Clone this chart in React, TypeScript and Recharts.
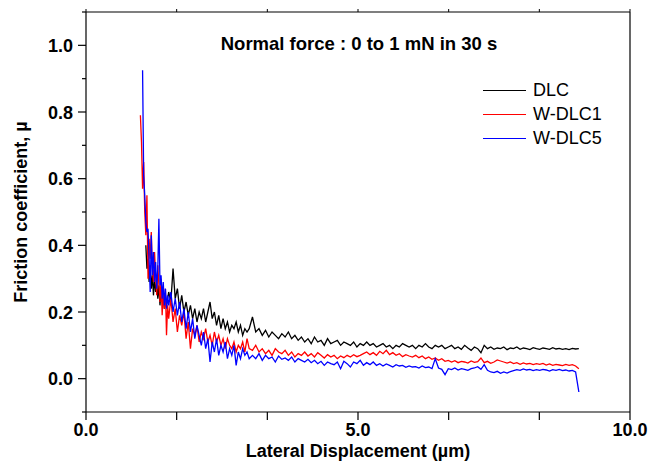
import React from "react"
import { LineChart, Line, XAxis, YAxis, Legend } from "recharts"

// lateral displacement (µm)
const xs = [
  1.0, 1.02, 1.04, 1.06, 1.08, 1.1, 1.12, 1.14, 1.16, 1.18, 1.2, 1.22, 1.24,
  1.26, 1.28, 1.3, 1.32, 1.34, 1.36, 1.38, 1.4, 1.42, 1.44, 1.46, 1.48, 1.5,
  1.52, 1.56, 1.6, 1.64, 1.68, 1.72, 1.76, 1.8, 1.84, 1.88, 1.92, 1.96, 2.0,
  2.04, 2.08, 2.12, 2.16, 2.2, 2.24, 2.28, 2.32, 2.36, 2.4, 2.44, 2.48, 2.52,
  2.56, 2.6, 2.64, 2.68, 2.72, 2.76, 2.8, 2.84, 2.88, 2.92, 2.96, 3.0,
  3.06, 3.12, 3.18, 3.24, 3.3, 3.36, 3.42, 3.48, 3.54, 3.6,
  3.66, 3.72, 3.78, 3.84, 3.9, 3.96, 4.02, 4.08, 4.14, 4.2,
  4.26, 4.32, 4.38, 4.44, 4.5, 4.56, 4.62, 4.68, 4.74, 4.8,
  4.86, 4.92, 4.98, 5.04, 5.1, 5.16, 5.22, 5.28, 5.34, 5.4,
  5.46, 5.52, 5.58, 5.64, 5.7, 5.76, 5.82, 5.88, 5.94, 6.0,
  6.06, 6.12, 6.18, 6.24, 6.3, 6.36, 6.42, 6.48, 6.54, 6.6,
  6.66, 6.72, 6.78, 6.84, 6.9, 6.96, 7.02, 7.08, 7.14, 7.2,
  7.26, 7.32, 7.38, 7.44, 7.5, 7.56, 7.62, 7.68, 7.74, 7.8,
  7.86, 7.92, 7.98, 8.04, 8.1, 8.16, 8.22, 8.28, 8.34, 8.4,
  8.46, 8.52, 8.58, 8.64, 8.7, 8.76, 8.82, 8.88, 8.94, 9.0,
  9.06,
]

// friction coefficient per sample
const dlc = [
  null, null, null, null, null, 0.4, 0.33, 0.36, 0.29, 0.34, 0.27, 0.31, 0.25,
  0.3, 0.26, 0.29, 0.24, 0.28, 0.22, 0.27, 0.23, 0.26, 0.21, 0.25, 0.22, 0.24,
  0.26, 0.23, 0.33, 0.24, 0.27, 0.21, 0.25, 0.2, 0.23, 0.19, 0.22, 0.18, 0.21,
  0.17, 0.2, 0.18, 0.21, 0.17, 0.2, 0.23, 0.18, 0.2, 0.16, 0.19, 0.15, 0.18,
  0.15, 0.17, 0.14, 0.16, 0.15, 0.17, 0.14, 0.16, 0.13, 0.15, 0.14, 0.15,
  0.185, 0.14, 0.15, 0.13, 0.145, 0.125, 0.14, 0.13, 0.12, 0.135,
  0.125, 0.14, 0.12, 0.13, 0.115, 0.125, 0.11, 0.12, 0.105, 0.125,
  0.11, 0.115, 0.1, 0.12, 0.105, 0.11, 0.115, 0.1, 0.11, 0.105,
  0.1, 0.11, 0.095, 0.105, 0.1, 0.11, 0.1, 0.105, 0.095, 0.1,
  0.105, 0.095, 0.1, 0.09, 0.1, 0.095, 0.105, 0.1, 0.095, 0.1,
  0.09, 0.1, 0.095, 0.105, 0.095, 0.09, 0.1, 0.095, 0.1, 0.09,
  0.095, 0.1, 0.09, 0.095, 0.088, 0.1, 0.092, 0.085, 0.095, 0.09,
  0.078, 0.1, 0.09, 0.095, 0.088, 0.092, 0.09, 0.095, 0.087, 0.092,
  0.09, 0.095, 0.088, 0.092, 0.09, 0.087, 0.093, 0.09, 0.088, 0.092,
  0.09, 0.088, 0.093, 0.089, 0.091, 0.088, 0.09, 0.087, 0.091, 0.089,
  0.09,
]

const wdlc1 = [
  0.79, 0.71, 0.57, 0.65, 0.5, 0.43, 0.55, 0.3, 0.42, 0.36, 0.44, 0.33, 0.29,
  0.38, 0.31, 0.25, 0.34, 0.28, 0.23, 0.3, 0.19, 0.26, 0.21, 0.27, 0.13, 0.22,
  0.18, 0.24, 0.17, 0.21, 0.14, 0.19, 0.16, 0.2, 0.12, 0.17, 0.09, 0.15, 0.13,
  0.16, 0.11, 0.14, 0.12, 0.15, 0.11, 0.13, 0.1, 0.14, 0.11, 0.13, 0.1, 0.12,
  0.09, 0.12, 0.1, 0.09, 0.11, 0.08, 0.1, 0.09, 0.11, 0.08, 0.12, 0.09,
  0.085, 0.1, 0.08, 0.09, 0.075, 0.085, 0.07, 0.09, 0.08, 0.075,
  0.085, 0.07, 0.08, 0.065, 0.075, 0.07, 0.08, 0.068, 0.075, 0.065,
  0.078, 0.07, 0.062, 0.072, 0.065, 0.07, 0.06, 0.068, 0.063, 0.07,
  0.065, 0.072, 0.066, 0.07, 0.075, 0.08, 0.072, 0.078, 0.07, 0.082,
  0.075, 0.085, 0.072, 0.078, 0.07, 0.075, 0.066, 0.072, 0.068, 0.065,
  0.07, 0.063, 0.068, 0.06, 0.065, 0.058, 0.062, 0.055, 0.06, 0.052,
  0.055, 0.05, 0.054, 0.048, 0.052, 0.05, 0.047, 0.053, 0.049, 0.051,
  0.062, 0.048, 0.052, 0.046, 0.05, 0.056, 0.053, 0.05, 0.047, 0.05,
  0.045, 0.048, 0.043, 0.047, 0.044, 0.046, 0.042, 0.045, 0.043, 0.046,
  0.041, 0.044, 0.04, 0.043, 0.041, 0.039, 0.043, 0.04, 0.042, 0.038,
  0.03,
]

const wdlc5 = [
  null, null, 0.925, 0.61, 0.55, 0.47, 0.44, 0.45, 0.36, 0.26, 0.43, 0.31, 0.38,
  0.29, 0.35, 0.27, 0.33, 0.48, 0.28, 0.31, 0.24, 0.29, 0.22, 0.27, 0.21, 0.25,
  0.22, 0.26, 0.2, 0.24, 0.19, 0.23, 0.17, 0.21, 0.15, 0.2, 0.14, 0.18, 0.12,
  0.16, 0.13, 0.1, 0.14, 0.09, 0.12, 0.05, 0.11, 0.08, 0.12, 0.07, 0.1, 0.08,
  0.11, 0.06, 0.09, 0.07, 0.1, 0.04, 0.08, 0.06, 0.09, 0.07, 0.08, 0.06,
  0.07, 0.06, 0.075, 0.055, 0.07, 0.06, 0.065, 0.05, 0.068, 0.058,
  0.062, 0.055, 0.065, 0.05, 0.06, 0.055, 0.05, 0.058, 0.048, 0.055,
  0.045, 0.052, 0.04, 0.05, 0.045, 0.042, 0.05, 0.03, 0.052, 0.045,
  0.035, 0.05, 0.045, 0.055, 0.04, 0.048, 0.042, 0.05, 0.04, 0.045,
  0.038, 0.044, 0.04, 0.035, 0.042, 0.038, 0.04, 0.034, 0.038, 0.035,
  0.036, 0.032, 0.038, 0.033, 0.035, 0.03, 0.06, 0.032, 0.028, 0.012,
  0.03, 0.027, 0.032, 0.026, 0.03, 0.028, 0.025, 0.03, 0.032, 0.036,
  0.028, 0.042, 0.025, 0.02, 0.018, 0.022, 0.016, 0.02, 0.017, 0.021,
  0.024, 0.027, 0.025, 0.029, 0.026, 0.028, 0.024, 0.027, 0.025, 0.028,
  0.026, 0.023, 0.027, 0.025, 0.028, 0.024, 0.026, 0.023, 0.025, 0.02,
  -0.04,
]

const xTicks = [0, 1.6667, 3.3333, 5, 6.6667, 8.3333, 10]
const xLabeled = [0, 5, 10]
const yTicks = [-0.1, 0, 0.1, 0.2, 0.3, 0.4, 0.5, 0.6, 0.7, 0.8, 0.9, 1.0, 1.1]

const series = [
  { key: "dlc", name: "DLC", color: "#000000" },
  { key: "wdlc1", name: "W-DLC1", color: "#ff0000" },
  { key: "wdlc5", name: "W-DLC5", color: "#0000ff" },
]

const FONT = '"Liberation Sans", Arial, Helvetica, sans-serif'

const data = xs.map((x, i) => ({ x, dlc: dlc[i], wdlc1: wdlc1[i], wdlc5: wdlc5[i] }))

const isMajor = (v: number) => Math.round(v * 10) % 2 === 0 && v >= 0

function LeftTick({ x, y, payload }: any) {
  const major = isMajor(payload.value)
  return (
    <g>
      <line x1={x} x2={x - (major ? 8 : 4)} y1={y} y2={y} stroke="#000" strokeWidth={1.2} />
      {major && (
        <text x={x - 13} y={y} dy={6.5} textAnchor="end" fontFamily={FONT} fontSize={18} fontWeight="bold" fill="#000">
          {payload.value.toFixed(1)}
        </text>
      )}
    </g>
  )
}

function RightTick({ x, y }: any) {
  return <line x1={x} x2={x + 3} y1={y} y2={y} stroke="#000" strokeWidth={1} />
}

function TopTick({ x, y }: any) {
  return <line x1={x} x2={x} y1={y} y2={y - 3} stroke="#000" strokeWidth={1} />
}

function LegendBox() {
  return (
    <div style={{ fontFamily: FONT, fontSize: 18, color: "#000" }}>
      {series.map((s) => (
        <div key={s.key} style={{ display: "flex", alignItems: "center", height: 24 }}>
          <span style={{ display: "inline-block", width: 43, height: 0, borderTop: `1.3px solid ${s.color}`, marginRight: 7 }} />
          <span>{s.name}</span>
        </div>
      ))}
    </div>
  )
}

export default function App() {
  return (
    <div style={{ position: "absolute", left: 0, top: 0, background: "#fff" }}>
      <LineChart width={651} height={472} data={data} margin={{ top: 0, right: 0, bottom: 0, left: 0 }}>
        <XAxis
          dataKey="x"
          type="number"
          domain={[0, 10]}
          ticks={xTicks}
          interval={0}
          height={60}
          stroke="#000"
          strokeWidth={1.2}
          tickSize={8}
          tickMargin={3}
          tick={{ fill: "#000", fontSize: 18, fontWeight: "bold", fontFamily: FONT }}
          tickFormatter={(v: number) => (xLabeled.some((l) => Math.abs(l - v) < 1e-6) ? v.toFixed(1) : "")}
          label={{
            value: "Lateral Displacement (µm)",
            position: "insideBottom",
            offset: 15,
            fill: "#000",
            fontSize: 18,
            fontWeight: "bold",
            fontFamily: FONT,
          }}
        />
        <XAxis
          xAxisId="top"
          orientation="top"
          dataKey="x"
          type="number"
          domain={[0, 10]}
          ticks={xTicks}
          interval={0}
          height={12}
          stroke="#000"
          strokeWidth={1.2}
          tickSize={0}
          tickMargin={0}
          tick={<TopTick />}
        />
        <YAxis
          type="number"
          domain={[-0.1, 1.1]}
          ticks={yTicks}
          interval={0}
          width={86}
          stroke="#000"
          strokeWidth={1.2}
          tickSize={0}
          tickMargin={0}
          tick={<LeftTick />}
        />
        <YAxis
          yAxisId="right"
          orientation="right"
          type="number"
          domain={[-0.1, 1.1]}
          ticks={yTicks}
          interval={0}
          width={21}
          stroke="#000"
          strokeWidth={1.2}
          tickSize={0}
          tickMargin={0}
          tick={<RightTick />}
        />
        <Legend
          layout="horizontal"
          align="center"
          verticalAlign="middle"
          content={<LegendBox />}
          wrapperStyle={{ position: "absolute", left: 483, top: 78, width: 150 }}
        />
        {series.map((s) => (
          <Line
            key={s.key}
            dataKey={s.key}
            name={s.name}
            type="linear"
            stroke={s.color}
            strokeWidth={1.3}
            dot={false}
            activeDot={false}
            isAnimationActive={false}
          />
        ))}
        <text x={359} y={50} textAnchor="middle" fontFamily={FONT} fontSize={18.5} fontWeight="bold" fill="#000">
          Normal force : 0 to 1 mN in 30 s
        </text>
        <text
          x={0}
          y={0}
          transform="translate(27 212) rotate(-90)"
          textAnchor="middle"
          fontFamily={FONT}
          fontSize={18}
          fontWeight="bold"
          fill="#000"
        >
          Friction coefficient, µ
        </text>
      </LineChart>
    </div>
  )
}
